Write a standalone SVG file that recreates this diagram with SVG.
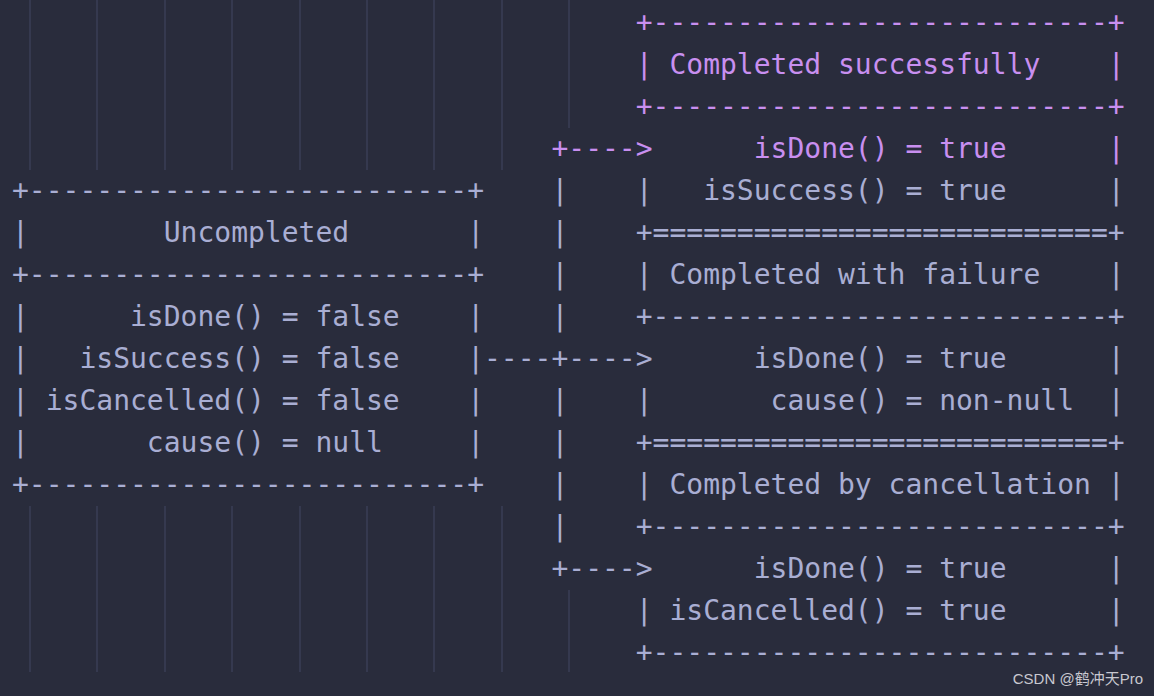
<svg xmlns="http://www.w3.org/2000/svg" width="1154" height="696" viewBox="0 0 1154 696">
<style>
.t{font-family:"DejaVu Sans Mono","Liberation Mono",monospace;font-size:28px;fill:#a9aed3;white-space:pre}
.p{fill:#c88ff0}
.g{stroke:#3a3e55;stroke-width:1.5}
.w{font-family:"Liberation Sans","Noto Sans CJK SC",sans-serif;font-size:15px;fill:#c8c8d0}
</style>
<rect width="1154" height="696" fill="#292c3c"/>
<g id="guides">
<path class="g" d="M30 0V170M97 0V170M165 0V170M232 0V170M300 0V170M367 0V170M434 0V170M502 0V170M569 0V128M30 506V672M97 506V672M165 506V672M232 506V672M300 506V672M367 506V672M434 506V672M502 506V672M569 590V672"/>
</g>
<g id="success" class="t">
<text x="12" y="32" xml:space="preserve" class="t p">                                     +---------------------------+</text>
<text x="12" y="74" xml:space="preserve" class="t p">                                     | Completed successfully    |</text>
<text x="12" y="116" xml:space="preserve" class="t p">                                     +---------------------------+</text>
<text x="12" y="158" xml:space="preserve" class="t p">                                +---->      isDone() = true      |</text>
</g>
<g id="rest" class="t">
<text x="12" y="200" xml:space="preserve" class="t">+--------------------------+    |    |   isSuccess() = true      |</text>
<text x="12" y="242" xml:space="preserve" class="t">|        Uncompleted       |    |    +===========================+</text>
<text x="12" y="284" xml:space="preserve" class="t">+--------------------------+    |    | Completed with failure    |</text>
<text x="12" y="326" xml:space="preserve" class="t">|      isDone() = false    |    |    +---------------------------+</text>
<text x="12" y="368" xml:space="preserve" class="t">|   isSuccess() = false    |----+---->      isDone() = true      |</text>
<text x="12" y="410" xml:space="preserve" class="t">| isCancelled() = false    |    |    |       cause() = non-null  |</text>
<text x="12" y="452" xml:space="preserve" class="t">|       cause() = null     |    |    +===========================+</text>
<text x="12" y="494" xml:space="preserve" class="t">+--------------------------+    |    | Completed by cancellation |</text>
<text x="12" y="536" xml:space="preserve" class="t">                                |    +---------------------------+</text>
<text x="12" y="578" xml:space="preserve" class="t">                                +---->      isDone() = true      |</text>
<text x="12" y="620" xml:space="preserve" class="t">                                     | isCancelled() = true      |</text>
<text x="12" y="662" xml:space="preserve" class="t">                                     +---------------------------+</text>
</g>
<text class="w" x="1143" y="684" text-anchor="end">CSDN @鹤冲天Pro</text>
</svg>
